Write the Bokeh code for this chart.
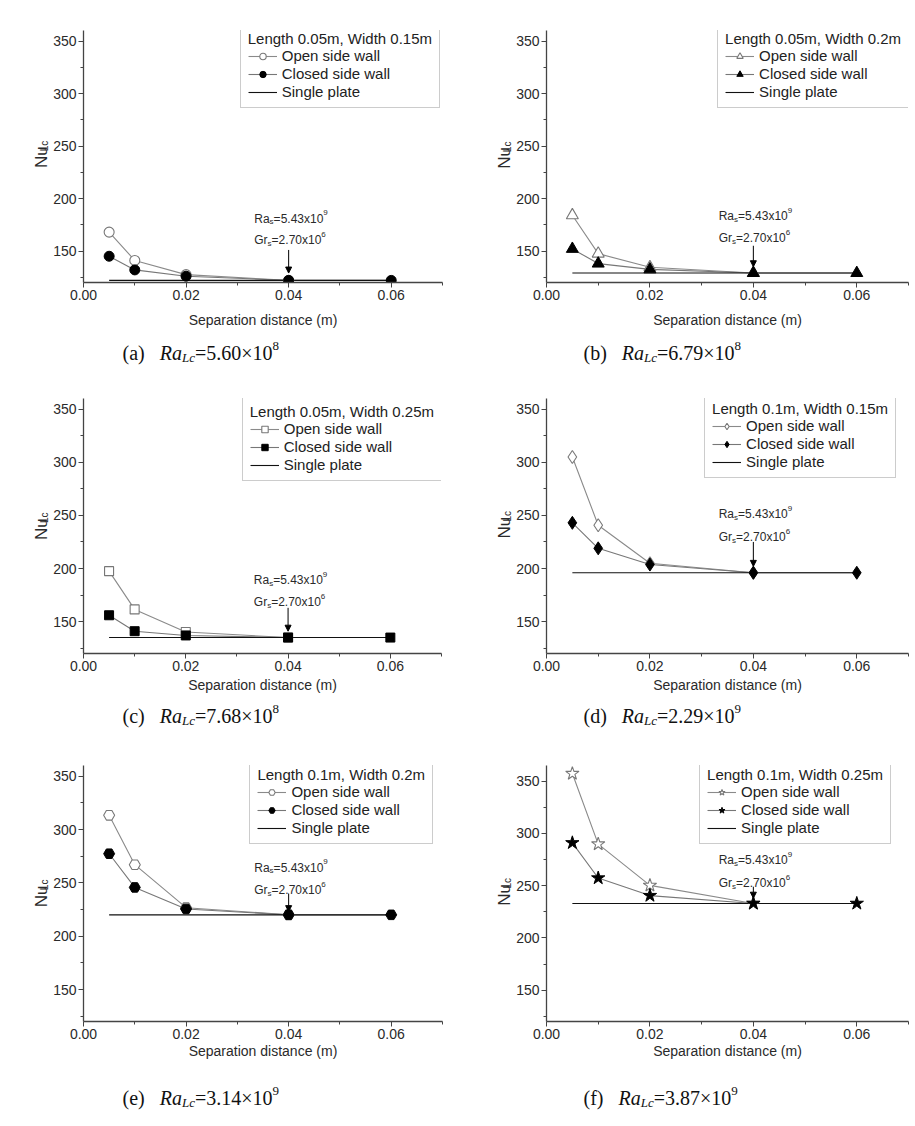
import math
from bokeh.plotting import figure
from bokeh.layouts import row, column
from bokeh.models import (Range1d, FixedTicker, Label, Arrow, NormalHead, Legend,
                          LegendItem, ColumnDataSource, NumeralTickFormatter)
from bokeh.embed import file_html
from bokeh.resources import INLINE

# ---------------- data ----------------
separation = [0.005, 0.01, 0.02, 0.04, 0.06]
single_x = [0.005, 0.06]

x_ticks = [0.0, 0.02, 0.04, 0.06]
x_minor = [0.01, 0.03, 0.05, 0.07]
x_tick_labels = ["0.00", "0.02", "0.04", "0.06"]
y_ticks = [150, 200, 250, 300, 350]
y_minor = [125, 175, 225, 275, 325]
y_tick_labels = ["150", "200", "250", "300", "350"]
y_min = 120
y_max = [360, 360, 360, 360, 360, 365]

open_a = [168, 141, 127.5, 122]
closed_a = [145, 132, 126, 122, 122]
single_a = 122

open_b = [184, 147.5, 134.5, 129]
closed_b = [152, 138, 132.5, 129, 129]
single_b = 129

open_c = [197.5, 161.5, 140.3, 135]
closed_c = [156, 141, 137, 135, 135]
single_c = 135

open_d = [305, 240.7, 205, 196]
closed_d = [243, 219, 203.7, 196, 196]
single_d = 196

open_e = [313.3, 267, 226.7, 220]
closed_e = [277.3, 245.7, 225.5, 220, 220]
single_e = 220

open_f = [357.3, 289.8, 250.3, 233]
closed_f = [291, 257.3, 240.5, 233, 233]
single_f = 233

legend_titles = ["Length 0.05m, Width 0.15m", "Length 0.05m, Width 0.2m",
                 "Length 0.05m, Width 0.25m", "Length 0.1m, Width 0.15m",
                 "Length 0.1m, Width 0.2m", "Length 0.1m, Width 0.25m"]
series_names = ["Open side wall", "Closed side wall", "Single plate"]
x_label = "Separation distance (m)"
y_label = ["Nu", "Lc"]
panel_letters = ["(a)", "(b)", "(c)", "(d)", "(e)", "(f)"]
ra_lc_mantissa = ["5.60", "6.79", "7.68", "2.29", "3.14", "3.87"]
ra_lc_exponent = ["8", "8", "8", "9", "9", "9"]
ra_s_text = ["=5.43x10", "9"]
gr_s_text = ["=2.70x10", "6"]
note_x = 0.0333
arrow_x = 0.04
# annotation heights (data units): Ra line, Gr line, arrow top, arrow bottom
ra_y = [184.5, 187, 192.8, 254.6, 268, 278]
gr_y = [164, 166, 172, 233, 247, 256]
arrow_top = [151, 155, 163, 225, 240, 249]
arrow_bottom = [129, 135, 141, 202, 223, 238]

open_series = [open_a, open_b, open_c, open_d, open_e, open_f]
closed_series = [closed_a, closed_b, closed_c, closed_d, closed_e, closed_f]
single_values = [single_a, single_b, single_c, single_d, single_e, single_f]
markers = ["circle", "triangle", "square", "diamond", "hex", "star"]
marker_sizes = [10, 12, 9, 13, 11, 14]

# ---------------- layout (pixels) ----------------
ROW_H = [330, 326, 325]          # plot-figure heights per row
CAP_H = [39, 43, 63]             # caption-figure heights per row
CAP_BASE = [17, 23, 29]          # caption baseline from bottom of caption figure
LAB_W = [50, 56]                 # width of the y-label strip (left / right column)
PLOT_W = [407, 402]
COL_W = [457, 458]
CAP_X = [122, 126]
BORDER_L = 33
# border top, frame height, frame width, x-label standoff, legend right gap, legend top gap
panel_geo = [
    dict(bt=28, fh=257, fw=359, xs=9, rg=4, tg=2),
    dict(bt=30, fh=256, fw=362, xs=9, rg=1, tg=1),
    dict(bt=29, fh=257, fw=358, xs=3, rg=1, tg=4),
    dict(bt=27, fh=257, fw=362, xs=3, rg=14, tg=1),
    dict(bt=27, fh=258, fw=359, xs=1, rg=11, tg=0),
    dict(bt=25, fh=258, fw=362, xs=1, rg=19, tg=0),
]

DIG = {d: .556 for d in "0123456789"}
SANS = dict(DIG, **{"R": .722, "a": .556, "G": .778, "r": .333, "s": .5, "=": .584,
                    ".": .278, "x": .5, "N": .722, "u": .556, "L": .556, "c": .5,
                    " ": .278, "e": .556, "n": .556, "g": .556, "t": .278, "h": .556,
                    "m": .833, ",": .278, "W": .944, "i": .222, "d": .556})
SERIF = {d: .5 for d in "0123456789"}
SERIF.update({"(": .333, ")": .333, "a": .444, "b": .5, "c": .444, "d": .5, "e": .444,
              "f": .333, "=": .564, "\u00d7": .564, ".": .25, " ": .25})
SERIF_I = {"R": .611, "a": .5, "L": .556, "c": .444}


def tw(s, size, table, default=.556):
    return sum(table.get(ch, default) for ch in s) * size


def rich(p, x, y, parts, font, color, x0=0.0, y0=0.0):
    off = x0
    for txt, size, dy, style, table in parts:
        p.add_layout(Label(x=x, y=y, x_units="data", y_units="data", text=txt,
                           x_offset=off, y_offset=y0 + dy, text_font=font,
                           text_font_size=f"{size}px", text_font_style=style,
                           text_color=color, text_align="left",
                           text_baseline="alphabetic"))
        off += tw(txt, size, table)


def canvas(w, h):
    c = figure(width=w, height=h, output_backend="svg", toolbar_location=None,
               x_range=Range1d(0, w), y_range=Range1d(0, h), x_axis_type=None,
               y_axis_type=None, min_border=0, background_fill_color="white",
               border_fill_color="white")
    c.outline_line_color = None
    c.xgrid.visible = False
    c.ygrid.visible = False
    return c


SANS_FONT = "Liberation Sans"
SERIF_FONT = "Liberation Serif"
AXIS_COL = "#444444"
TEXT_COL = "#2a2a2a"
LEG_FONT = 15
LEG_PAD = 7
LEG_H = 81

rows = []
for r in range(3):
    top_children = []
    cap_children = []
    for col in range(2):
        i = r * 2 + col
        G = panel_geo[i]
        H = ROW_H[r]
        W = PLOT_W[col]
        bb = H - G["bt"] - G["fh"]
        p = figure(width=W, height=H, output_backend="svg", toolbar_location=None,
                   x_range=Range1d(0, 0.07), y_range=Range1d(y_min, y_max[i]),
                   min_border_left=BORDER_L, min_border_right=W - BORDER_L - G["fw"],
                   min_border_top=G["bt"], min_border_bottom=bb,
                   background_fill_color="white", border_fill_color="white")
        p.outline_line_color = None
        p.xgrid.visible = False
        p.ygrid.visible = False
        for ax in (p.xaxis[0], p.yaxis[0]):
            ax.axis_line_color = AXIS_COL
            ax.axis_line_width = 1.3
            ax.major_tick_line_color = AXIS_COL
            ax.minor_tick_line_color = AXIS_COL
            ax.major_tick_in = 0
            ax.major_tick_out = 5
            ax.minor_tick_in = 0
            ax.minor_tick_out = 3
            ax.major_label_text_font = SANS_FONT
            ax.major_label_text_font_size = "14px"
            ax.major_label_text_color = TEXT_COL
            ax.major_label_standoff = 2
        p.xaxis.ticker = FixedTicker(ticks=x_ticks, minor_ticks=x_minor)
        p.xaxis.formatter = NumeralTickFormatter(format="0.00")
        p.xaxis.major_label_overrides = dict(zip(x_ticks, x_tick_labels))
        p.yaxis.ticker = FixedTicker(ticks=y_ticks, minor_ticks=y_minor)
        p.yaxis.major_label_overrides = dict(zip(y_ticks, y_tick_labels))
        p.xaxis.axis_label = x_label
        p.xaxis.axis_label_text_font = SANS_FONT
        p.xaxis.axis_label_text_font_size = "14px"
        p.xaxis.axis_label_text_font_style = "normal"
        p.xaxis.axis_label_text_color = TEXT_COL
        p.xaxis.axis_label_standoff = G["xs"]

        op = open_series[i]
        cl = closed_series[i]
        sv = single_values[i]
        m = markers[i]
        ms = marker_sizes[i]
        src_o = ColumnDataSource(dict(x=separation[:len(op)], y=op))
        src_c = ColumnDataSource(dict(x=separation[:len(cl)], y=cl))
        src_s = ColumnDataSource(dict(x=single_x, y=[sv] * len(single_x)))

        l_o = p.line("x", "y", source=src_o, line_color="#8a8a8a", line_width=1.1)
        l_c = p.line("x", "y", source=src_c, line_color="#777777", line_width=1.1)
        l_s = p.line("x", "y", source=src_s, line_color="#111111", line_width=1.1)
        s_o = p.scatter("x", "y", source=src_o, marker=m, size=ms, fill_color="white",
                        line_color="#777777", line_width=1.1)
        s_c = p.scatter("x", "y", source=src_c, marker=m, size=ms, fill_color="black",
                        line_color="black", line_width=1)

        # Ra_s / Gr_s notes with arrow
        rich(p, note_x, ra_y[i], [("Ra", 12, 0, "normal", SANS),
                                  ("s", 8, -3, "normal", SANS),
                                  (ra_s_text[0], 12, 0, "normal", SANS),
                                  (ra_s_text[1], 8, 6, "normal", SANS)],
             SANS_FONT, TEXT_COL, y0=-4)
        rich(p, note_x, gr_y[i], [("Gr", 12, 0, "normal", SANS),
                                  ("s", 8, -3, "normal", SANS),
                                  (gr_s_text[0], 12, 0, "normal", SANS),
                                  (gr_s_text[1], 8, 6, "normal", SANS)],
             SANS_FONT, TEXT_COL, y0=-4)
        p.add_layout(Arrow(end=NormalHead(size=6, fill_color="black", line_color="black"),
                           x_start=arrow_x, y_start=arrow_top[i], x_end=arrow_x,
                           y_end=arrow_bottom[i], line_color="black", line_width=1))

        # legend, placed so that its top-right corner lands where the reference has it
        leg_w = tw(legend_titles[i], LEG_FONT, SANS) + 2 * LEG_PAD
        lx = G["fw"] - G["rg"] - leg_w
        ly = G["fh"] - G["tg"] - LEG_H
        leg = Legend(items=[LegendItem(label=series_names[0], renderers=[l_o, s_o]),
                            LegendItem(label=series_names[1], renderers=[l_c, s_c]),
                            LegendItem(label=series_names[2], renderers=[l_s])],
                     location=(lx, ly), title=legend_titles[i])
        leg.title_text_font = SANS_FONT
        leg.title_text_font_size = f"{LEG_FONT}px"
        leg.title_text_font_style = "normal"
        leg.title_text_color = "#222222"
        leg.title_standoff = 0
        leg.label_text_font = SANS_FONT
        leg.label_text_font_size = f"{LEG_FONT}px"
        leg.label_text_color = "#222222"
        leg.label_height = 16
        leg.glyph_height = 16
        leg.glyph_width = 29
        leg.label_standoff = 5
        leg.spacing = 1
        leg.padding = LEG_PAD
        leg.margin = 0
        leg.border_line_color = "#9a9a9a"
        leg.border_line_width = 1.2
        leg.background_fill_alpha = 1.0
        p.add_layout(leg)

        # y-axis label strip: Nu with subscript Lc, rotated
        lab = canvas(LAB_W[col], H)
        nu_x = LAB_W[col] - 9
        nu_y = bb + 105
        lab.add_layout(Label(x=nu_x, y=nu_y, text=y_label[0], angle=math.pi / 2,
                             text_font=SANS_FONT, text_font_size="17px",
                             text_color=TEXT_COL, text_align="left",
                             text_baseline="alphabetic"))
        lab.add_layout(Label(x=nu_x + 3, y=nu_y + tw(y_label[0], 17, SANS),
                             text=y_label[1], angle=math.pi / 2, text_font=SANS_FONT,
                             text_font_size="10px", text_color=TEXT_COL,
                             text_align="left", text_baseline="alphabetic"))
        top_children += [lab, p]

        # caption  (x) Ra_Lc = m x 10^e
        cap = canvas(COL_W[col], CAP_H[r])
        rich(cap, CAP_X[col], CAP_BASE[r],
             [(panel_letters[i], 20, 0, "normal", SERIF),
              ("   ", 20, 0, "normal", SERIF),
              ("Ra", 20, 0, "italic", SERIF_I),
              ("Lc", 13, -5, "italic", SERIF_I),
              ("=" + ra_lc_mantissa[i] + "\u00d710", 20, 0, "normal", SERIF),
              (ra_lc_exponent[i], 13, 7, "normal", SERIF)],
             SERIF_FONT, "#111111")
        cap_children.append(cap)
    rows.append(row(*top_children, spacing=0))
    rows.append(row(*cap_children, spacing=0))

page = column(*rows, spacing=0)
open("out.html", "w").write(file_html(page, INLINE))
